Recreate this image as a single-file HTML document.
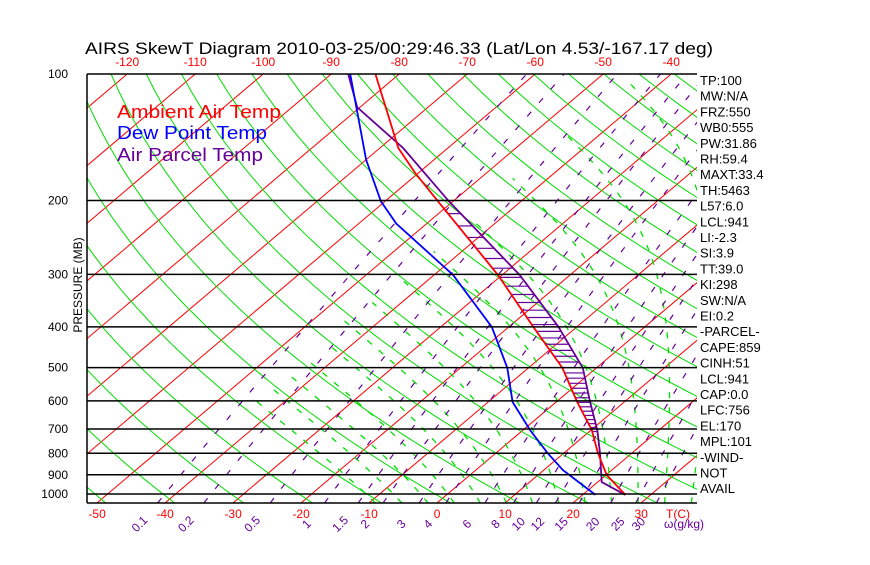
<!DOCTYPE html>
<html><head><meta charset="utf-8"><style>
html,body{margin:0;padding:0;background:#fff;}
svg text{font-family:"Liberation Sans",sans-serif;}
</style></head><body>
<svg id="chart" width="870" height="560" viewBox="0 0 870 560" xmlns="http://www.w3.org/2000/svg">
<rect width="870" height="560" fill="#fff"/>
<defs><clipPath id="plot"><rect x="87" y="74" width="610" height="429"/></clipPath></defs>
<text x="85" y="54" font-size="17" textLength="628" lengthAdjust="spacingAndGlyphs" fill="#000">AIRS SkewT Diagram 2010-03-25/00:29:46.33 (Lat/Lon 4.53/-167.17 deg)</text>
<g id="bg" clip-path="url(#plot)"></g>
<g id="data" clip-path="url(#plot)"></g>
<g id="axes"></g>
<g>
<text x="117" y="118" font-size="18" textLength="164" lengthAdjust="spacingAndGlyphs" fill="#ff0000">Ambient Air Temp</text>
<text x="117" y="139" font-size="18" textLength="150" lengthAdjust="spacingAndGlyphs" fill="#0000ff">Dew Point Temp</text>
<text x="117" y="161" font-size="18" textLength="146" lengthAdjust="spacingAndGlyphs" fill="#660099">Air Parcel Temp</text>
</g>
<g id="stats"></g>
</svg>
<script>
// ---- data ----
const tempP = [100,150,172,201,301,400,501,604,704,799,901,1005];
const tempT = [-83.5,-67.3,-60.5,-52.2,-30.6,-16.4,-5.0,3.1,10.1,15.0,20.1,26.3];
const dewP = [100,160,201,227,301,400,501,604,704,799,877,1005];
const dewT = [-87.2,-70,-60.6,-54.5,-37.2,-22.5,-13.1,-6.4,1.0,7.6,12.8,21.9];
const parcelP = [100,120,150,201,301,400,501,604,704,799,937,1005];
const parcelT = [-87.5,-80.4,-66.6,-50.6,-27.4,-12.7,-2.0,5.0,10.9,15.3,20.6,26.3];
const pressureTicks = [100,200,300,400,500,600,700,800,900,1000];
const topTempTicks = [-120,-110,-100,-90,-80,-70,-60,-50,-40];
const bottomTempTicks = [-50,-40,-30,-20,-10,0,10,20,30];
const mixingRatios = [0.1,0.2,0.5,1,1.5,2,3,4,6,8,10,12,15,20,25,30];
const mixingLabels = ["0.1","0.2","0.5","1","1.5","2","3","4","6","8","10","12","15","20","25","30"];
const statLabels = ["TP:100","MW:N/A","FRZ:550","WB0:555","PW:31.86","RH:59.4","MAXT:33.4","TH:5463","L57:6.0","LCL:941","LI:-2.3","SI:3.9","TT:39.0","KI:298","SW:N/A","EI:0.2","-PARCEL-","CAPE:859","CINH:51","LCL:941","CAP:0.0","LFC:756","EL:170","MPL:101","-WIND-","NOT","AVAIL"];

// ---- axes ----
const NS="http://www.w3.org/2000/svg";
const Y0=494, K=182.4, BOT=503, X0=437, SX=6.8, SK=1.18;
function yP(p){return Y0+K*Math.log(p/1000);}
function xT(T,p){return X0+SX*T+SK*(BOT-yP(p));}
function mk(tag,attrs,parent){const e=document.createElementNS(NS,tag);for(const k in attrs)e.setAttribute(k,attrs[k]);parent.appendChild(e);return e;}
function pathFrom(pts){return pts.map((q,i)=>(i?'L':'M')+q[0].toFixed(1)+' '+q[1].toFixed(1)).join(' ');}
const bg=document.getElementById('bg'), dg=document.getElementById('data'), ax=document.getElementById('axes');
const PB=1050, PT=100;
function es(Tc){return 6.112*Math.exp(17.67*Tc/(Tc+243.5));}

// isotherms
for(let T=-170;T<=60;T+=10){
  const l=mk('line',{x1:xT(T,PB),y1:yP(PB),x2:xT(T,PT),y2:yP(PT),stroke:'#ff0000','stroke-width':1},bg);
  
  
}
// dry adiabats
for(let th=171.3;th<=600;th+=10){
  const pts=[];
  for(let p=PB;p>=PT-1;p-=10){pts.push([xT(th*Math.pow(p/1000,0.286)-273.15,p),yP(p)]);}
  const e=mk('path',{d:pathFrom(pts),stroke:'#00dd00','stroke-width':1,fill:'none'},bg);
  
  
}
// moist adiabats (drawn only where T > -45C)
for(let T0=-12;T0<=44;T0+=4){
  let lpd=Math.log(1000), Tdown=T0+273.15;
  const pts=[];
  const f=(T,p)=>{const e=es(T-273.15);const rs=0.622*e/(p-e);return (287*T+2.5e6*rs)/(1004+2.5e6*2.5e6*rs*0.622/(287*T*T));};
  const st=0.005;
  while(Math.exp(lpd)<PB){lpd+=st;Tdown+=f(Tdown,Math.exp(lpd))*st;}
  pts.push([xT(Tdown-273.15,Math.exp(lpd)),yP(Math.exp(lpd))]);
  let i=0;
  while(Math.exp(lpd)>PT && Tdown-273.15>-45){lpd-=st;Tdown-=f(Tdown,Math.exp(lpd))*st;if(++i%4==0)pts.push([xT(Tdown-273.15,Math.exp(lpd)),yP(Math.exp(lpd))]);}
  if(pts.length<2) continue;
  const e=mk('path',{d:pathFrom(pts),stroke:'#00dd00','stroke-width':1.3,fill:'none','stroke-dasharray':'6 9'},bg);
  
  
}
// mixing ratio lines
function tdW(w,p){const e=w*p/(622+w);const l=Math.log(e/6.112);return 243.5*l/(17.67-l);}
mixingRatios.forEach((w,i)=>{
  const pts=[];
  for(let p=PB;p>=PT-1;p-=10)pts.push([xT(tdW(w,p),p),yP(p)]);
  const e=mk('path',{d:pathFrom(pts),stroke:'#660099','stroke-width':1.2,fill:'none','stroke-dasharray':'6 12'},bg);
  
  
  const x=xT(tdW(w,PB),PB)-18;
  const t=mk('text',{x:x,y:528,'font-size':12,fill:'#660099','text-anchor':'middle',transform:`rotate(-45 ${x} 524)`},ax);
  t.textContent=mixingLabels[i];
  
  
});
// pressure lines & labels
pressureTicks.forEach(p=>{
  const y=yP(p);
  const l=mk('line',{x1:87,y1:y,x2:697,y2:y,stroke:'#000','stroke-width':1.5},ax);
  
  
  const t=mk('text',{x:68,y:y+4,'font-size':12,'text-anchor':'end',fill:'#000'},ax);
  t.textContent=p;
  
  
});
const bl=mk('line',{x1:87,y1:BOT,x2:697,y2:BOT,stroke:'#000','stroke-width':1.5},ax);


const ll=mk('line',{x1:87,y1:74,x2:87,y2:BOT,stroke:'#000','stroke-width':1.5},ax);


const yt=mk('text',{x:0,y:0,'font-size':12,'text-anchor':'middle',fill:'#000',transform:'translate(82 285) rotate(-90)'},ax);
yt.textContent='PRESSURE (MB)';


topTempTicks.forEach(T=>{
  const t=mk('text',{x:xT(T,PT),y:66,'font-size':12,'text-anchor':'middle',fill:'#ff0000'},ax);
  t.textContent=T;
  
  
});
bottomTempTicks.forEach(T=>{
  const t=mk('text',{x:xT(T,PB),y:518,'font-size':12,'text-anchor':'middle',fill:'#ff0000'},ax);
  t.textContent=T;
  
  
});
const tc=mk('text',{x:678,y:518,'font-size':12,'text-anchor':'middle',fill:'#ff0000'},ax);
tc.textContent='T(C)';


const gk=mk('text',{x:664,y:528,'font-size':12,fill:'#660099'},ax);
gk.textContent='ω(g/kg)';



// ---- series ----
function interpX(P,T,y){
  for(let i=0;i<P.length-1;i++){const y1=yP(P[i]),y2=yP(P[i+1]);if(y>=y1&&y<=y2){const a=(y-y1)/(y2-y1);return xT(T[i],P[i])*(1-a)+xT(T[i+1],P[i+1])*a;}}
  return null;
}
for(let p=200;p<=720;p+=15){
  const y=yP(p), xr=interpX(tempP,tempT,y), xp=interpX(parcelP,parcelT,y);
  if(xr!==null&&xp!==null&&xp>xr+1){
    const h=mk('line',{x1:xr,y1:y,x2:xp,y2:y,stroke:'#660099','stroke-width':1.2},dg);
    
    
  }
}
function series(P,T,color,name){
  const e=mk('path',{d:pathFrom(P.map((p,i)=>[xT(T[i],p),yP(p)])),stroke:color,'stroke-width':1.8,fill:'none'},dg);
  
  
}
series(parcelP,parcelT,'#660099','parcel-temp-line');
series(dewP,dewT,'#0000ff','dew-point-line');
series(tempP,tempT,'#ff0000','air-temp-line');

// ---- stats ----
const sg=document.getElementById('stats');
statLabels.forEach((s,i)=>{
  const t=mk('text',{x:700,y:85+i*15.7,'font-size':13,fill:'#000'},sg);
  t.textContent=s;
  
  
});
</script>
</body></html>
